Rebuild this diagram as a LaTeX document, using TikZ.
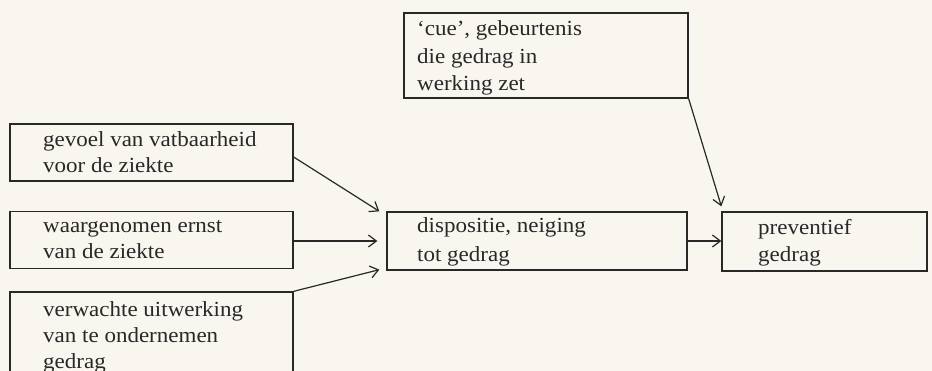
\documentclass[tikz,border=0pt]{standalone}
\usepackage{fontspec}
\setmainfont{Liberation Serif}[FakeStretch=1.07]
\usetikzlibrary{arrows.meta}
\definecolor{paper}{RGB}{248,246,239}
\definecolor{ink}{RGB}{40,40,40}
\tikzset{
  box/.style={draw=ink, line width=1.3pt, inner sep=0pt},
  lbl/.style={anchor=base west, align=left, inner sep=0pt, text=ink,
    font=\fontsize{21.5pt}{26pt}\selectfont},
  flow/.style={draw=ink, line width=1.2pt,
    -{Straight Barb[length=8pt,width=12pt,line width=1.2pt]}}
}
\begin{document}
\begin{tikzpicture}[x=1pt,y=-1pt]
  \fill[paper] (0,0) rectangle (932,371);
  \clip (0,0) rectangle (932,371);

  % boxes
  \node[box, minimum width=283pt, minimum height=57pt]  (vat)  at (151.5,152.5) {};
  \node[box, minimum width=283pt, minimum height=57pt]  (ernst) at (151.5,240) {};
  \node[box, minimum width=283pt, minimum height=108pt] (uitw) at (151.5,346) {};
  \node[box, minimum width=300pt, minimum height=58pt]  (disp) at (537,241) {};
  \node[box, minimum width=205pt, minimum height=59pt]  (prev) at (824.5,241.5) {};
  \node[box, minimum width=284pt, minimum height=85pt]  (cue)  at (546,55.5) {};

  % texts (anchored at the baseline of the last line)
  \node[lbl] (tvat)   at (43,173)  {gevoel van vatbaarheid\\voor de ziekte};
  \node[lbl] (ternst) at (43,259)  {waargenomen ernst\\van de ziekte};
  \node[lbl] (tuitw)  at (43,369)  {verwachte uitwerking\\van te ondernemen\\gedrag};
  \node[lbl, font=\fontsize{21.5pt}{29pt}\selectfont] (tdisp) at (417,262) {dispositie, neiging\\tot gedrag};
  \node[lbl, font=\fontsize{21.5pt}{27pt}\selectfont] (tprev) at (758,262) {preventief\\gedrag};
  \node[lbl, font=\fontsize{21.5pt}{27.5pt}\selectfont] (tcue)  at (417,91)  {`cue', gebeurtenis\\die gedrag in\\werking zet};

  % arrow end points
  \coordinate (vatout) at ([yshift=-4.5pt]vat.east);
  \coordinate (ernstout) at ([yshift=-1pt]ernst.east);
  \coordinate (dispin1) at ([xshift=-7pt]disp.north west);
  \coordinate (dispin2) at ([xshift=-9pt]disp.west);
  \coordinate (dispin3) at ([xshift=-7pt,yshift=1pt]disp.south west);
  \coordinate (previn) at ([yshift=5pt]prev.north west);

  % connectors
  \draw[flow] (vatout) -- (dispin1);
  \draw[flow] (ernstout) -- (ernstout -| dispin2);
  \draw[flow] (uitw.north east) -- (dispin3);
  \draw[flow] (disp.east) -- (disp.east -| prev.west);
  \draw[flow] (cue.south east) -- (previn);
\end{tikzpicture}
\end{document}
